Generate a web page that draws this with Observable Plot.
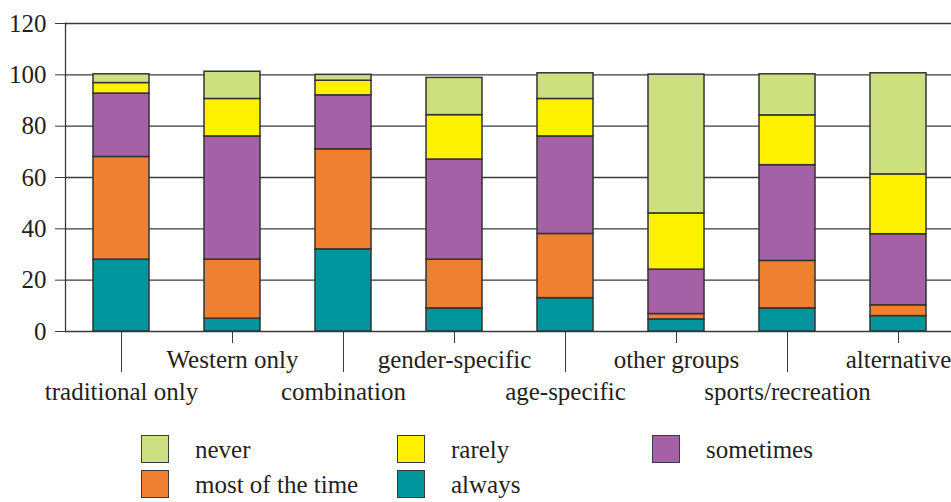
<!DOCTYPE html>
<html>
<head>
<meta charset="utf-8">
<script src="https://cdn.jsdelivr.net/npm/d3@7"></script>
<script src="https://cdn.jsdelivr.net/npm/@observablehq/plot@0.6"></script>
<style>
  html, body { margin: 0; padding: 0; background: #fff; }
  #wrap { position: relative; width: 951px; height: 502px; overflow: hidden; font-family: "Liberation Serif", serif; color: #231f20; }
  .sw { position: absolute; width: 26px; height: 26px; border: 1.5px solid #3a3a3a; }
  .lt { position: absolute; font-size: 25px; line-height: 1; white-space: nowrap; }
</style>
</head>
<body>
<div id="wrap"></div>
<script>
const categories = ["traditional only", "Western only", "combination", "gender-specific", "age-specific", "other groups", "sports/recreation", "alternative"];
const seriesNames = ["always", "most of the time", "sometimes", "rarely", "never"];
const always    = [28, 5, 32, 9, 13, 4.7, 9, 6];
const mostTime  = [40, 23, 39, 19, 25, 2.1, 18.5, 4.2];
const sometimes = [24.7, 48, 21, 39, 38, 17.3, 37.3, 27.7];
const rarely    = [4.1, 14.6, 5.7, 17.3, 14.6, 21.9, 19.4, 23.3];
const never     = [3.4, 10.6, 2.3, 14.5, 10, 54.1, 16, 39.4];
const yTicks = [0, 20, 40, 60, 80, 100, 120];
const colors = ["#00949d", "#ef7f31", "#a561a6", "#fff200", "#cde07f"];
const legendOrder = ["never", "rarely", "sometimes", "most of the time", "always"];

const seriesValues = [always, mostTime, sometimes, rarely, never];
const rows = [];
categories.forEach((c, i) => {
  seriesNames.forEach((s, j) => rows.push({cat: c, resp: s, value: seriesValues[j][i]}));
});
const evenCats = categories.filter((d, i) => i % 2 === 0);
const oddCats = categories.filter((d, i) => i % 2 === 1);

const chart = Plot.plot({
  width: 951,
  height: 415,
  marginTop: 23,
  marginBottom: 84,
  marginLeft: 65,
  marginRight: 0,
  style: {fontFamily: "'Liberation Serif', serif", fontSize: "25px", color: "#231f20", background: "#fff"},
  x: {type: "band", domain: categories, range: [65, 953], paddingInner: 0.5, paddingOuter: 0.25},
  y: {domain: [0, 120]},
  color: {domain: seriesNames, range: colors},
  marks: [
    Plot.gridY(yTicks, {stroke: "#3a3a3a", strokeOpacity: 1, strokeWidth: 1.3}),
    Plot.frame({anchor: "left", stroke: "#3a3a3a", strokeWidth: 1.3}),
    Plot.barY(rows, {x: "cat", y: "value", fill: "resp", order: seriesNames, stroke: "#333", strokeWidth: 1.5}),
    Plot.axisY(yTicks, {tickSize: 10, tickPadding: 9, label: null, stroke: "#3a3a3a"}),
    Plot.axisX(evenCats, {tickSize: 41, tickPadding: 10, label: null, stroke: "#3a3a3a"}),
    Plot.axisX(oddCats, {tickSize: 12, tickPadding: 7, label: null, stroke: "#3a3a3a"})
  ]
});
const wrap = document.getElementById("wrap");
wrap.appendChild(chart);

// legend
const pos = {
  "never": [141, 435, 195],
  "rarely": [397, 435, 451],
  "sometimes": [652, 435, 706],
  "most of the time": [141, 470, 195],
  "always": [397, 470, 451]
};
legendOrder.forEach(name => {
  const [sx, sy, tx] = pos[name];
  const sw = document.createElement("div");
  sw.className = "sw";
  sw.style.left = sx + "px";
  sw.style.top = sy + "px";
  sw.style.background = colors[seriesNames.indexOf(name)];
  wrap.appendChild(sw);
  const t = document.createElement("div");
  t.className = "lt";
  t.textContent = name;
  t.style.left = tx + "px";
  t.style.top = (sy + 2) + "px";
  wrap.appendChild(t);
});
</script>
</body>
</html>
